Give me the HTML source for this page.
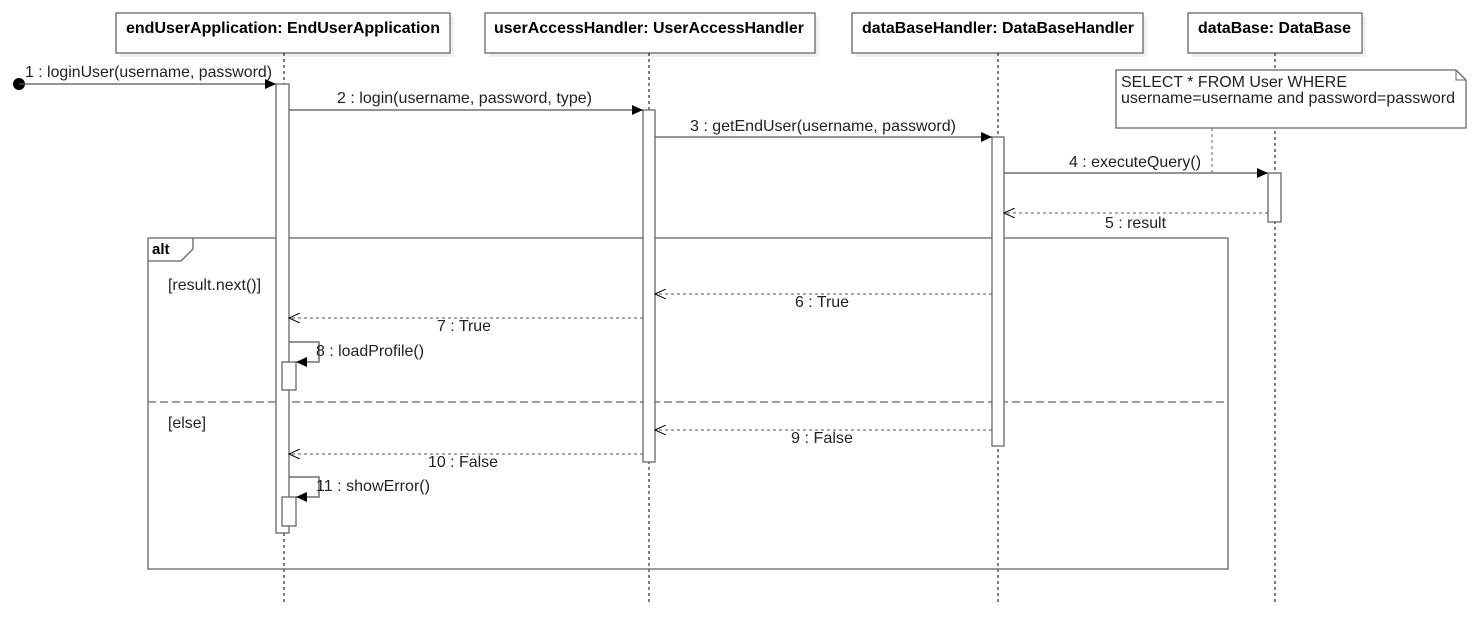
<!DOCTYPE html>
<html><head><meta charset="utf-8"><style>
html,body{margin:0;padding:0;background:#fff;}
svg{display:block;font-family:"Liberation Sans",sans-serif;}
</style></head><body>
<svg width="1473" height="623" viewBox="0 0 1473 623" xmlns="http://www.w3.org/2000/svg">
<defs>
<marker id="fa" markerWidth="12" markerHeight="10" refX="11" refY="5" orient="auto" markerUnits="userSpaceOnUse"><path d="M0,0 L11,5 L0,10 Z" fill="#000"/></marker>
<marker id="oa" markerWidth="12" markerHeight="10" refX="11" refY="5" orient="auto" markerUnits="userSpaceOnUse"><path d="M0,0 L11,5 L0,10" fill="none" stroke="#000" stroke-width="1"/></marker>
</defs>
<g fill="#f0f0f0">
<rect x="120" y="17" width="334" height="40"/>
<rect x="489" y="17" width="330" height="40"/>
<rect x="856" y="17" width="291" height="40"/>
<rect x="1192" y="17" width="174" height="40"/>
</g>
<g fill="#fff" stroke="#666" stroke-width="1.3">
<rect x="116" y="13" width="334" height="40"/>
<rect x="485" y="13" width="330" height="40"/>
<rect x="852" y="13" width="291" height="40"/>
<rect x="1188" y="13" width="174" height="40"/>
</g>
<g font-weight="bold" font-size="15.5" fill="#000">
<text x="126" y="33" textLength="314" lengthAdjust="spacingAndGlyphs">endUserApplication: EndUserApplication</text>
<text x="494" y="33" textLength="310" lengthAdjust="spacingAndGlyphs">userAccessHandler: UserAccessHandler</text>
<text x="862" y="33" textLength="272" lengthAdjust="spacingAndGlyphs">dataBaseHandler: DataBaseHandler</text>
<text x="1198" y="33" textLength="153" lengthAdjust="spacingAndGlyphs">dataBase: DataBase</text>
</g>
<g stroke="#000" stroke-dasharray="3,3" stroke-width="1">
<line x1="284" y1="53" x2="284" y2="603"/>
<line x1="649" y1="53" x2="649" y2="603"/>
<line x1="998" y1="53" x2="998" y2="603"/>
<line x1="1275" y1="53" x2="1275" y2="603"/>
</g>
<path d="M1116,70 L1456,70 L1466,80 L1466,128 L1116,128 Z" fill="#fff" stroke="#666" stroke-width="1.3"/>
<path d="M1456,70 L1456,80 L1466,80" fill="none" stroke="#666"/>
<text x="1121" y="87" font-size="16" fill="#222" textLength="226" lengthAdjust="spacingAndGlyphs">SELECT * FROM User WHERE</text>
<text x="1121" y="103" font-size="16" fill="#222" textLength="334" lengthAdjust="spacingAndGlyphs">username=username and password=password</text>
<path d="M1212,128 L1212,173 L1139,173" fill="none" stroke="#666" stroke-dasharray="3,3"/>
<rect x="148" y="238" width="1080" height="331" fill="none" stroke="#666" stroke-width="1.3"/>
<path d="M148,261 L181,261 L193,249 L193,238" fill="none" stroke="#666" stroke-width="1.3"/>
<text x="152" y="254" font-size="15" font-weight="bold">alt</text>
<line x1="148" y1="402" x2="1228" y2="402" stroke="#666" stroke-width="1.3" stroke-dasharray="8,4"/>
<text x="168" y="290" font-size="16" fill="#222" textLength="93" lengthAdjust="spacingAndGlyphs">[result.next()]</text>
<text x="168" y="428" font-size="16" fill="#222" textLength="38" lengthAdjust="spacingAndGlyphs">[else]</text>
<g fill="#fff" stroke="#666" stroke-width="1.3">
<rect x="276" y="84" width="13" height="449"/>
<rect x="282" y="362" width="14" height="28"/>
<rect x="282" y="497" width="14" height="29"/>
<rect x="643" y="110" width="12" height="352"/>
<rect x="992" y="137" width="12" height="309"/>
<rect x="1268" y="173" width="13" height="49"/>
</g>
<circle cx="19" cy="84" r="6" fill="#000"/>
<g stroke="#555" stroke-width="1.3" fill="none">
<line x1="19" y1="84" x2="276" y2="84" marker-end="url(#fa)"/>
<line x1="289" y1="110" x2="643" y2="110" marker-end="url(#fa)"/>
<line x1="655" y1="137" x2="992" y2="137" marker-end="url(#fa)"/>
<line x1="1004" y1="173" x2="1268" y2="173" marker-end="url(#fa)"/>
<path d="M289,342 L319,342 L319,362 L296,362" marker-end="url(#fa)"/>
<path d="M289,477 L319,477 L319,497 L296,497" marker-end="url(#fa)"/>
</g>
<g stroke="#555" stroke-width="1.1" fill="none" stroke-dasharray="3,3">
<line x1="1268" y1="213" x2="1004" y2="213" marker-end="url(#oa)"/>
<line x1="992" y1="294" x2="655" y2="294" marker-end="url(#oa)"/>
<line x1="643" y1="318" x2="289" y2="318" marker-end="url(#oa)"/>
<line x1="992" y1="430" x2="655" y2="430" marker-end="url(#oa)"/>
<line x1="643" y1="454" x2="289" y2="454" marker-end="url(#oa)"/>
</g>
<g font-size="16" fill="#222">
<text x="25" y="77" textLength="247" lengthAdjust="spacingAndGlyphs">1 : loginUser(username, password)</text>
<text x="337" y="103" textLength="255" lengthAdjust="spacingAndGlyphs">2 : login(username, password, type)</text>
<text x="690" y="131" textLength="266" lengthAdjust="spacingAndGlyphs">3 : getEndUser(username, password)</text>
<text x="1069" y="167" textLength="132" lengthAdjust="spacingAndGlyphs">4 : executeQuery()</text>
<text x="1105" y="228" textLength="61" lengthAdjust="spacingAndGlyphs">5 : result</text>
<text x="795" y="307" textLength="54" lengthAdjust="spacingAndGlyphs">6 : True</text>
<text x="437" y="331" textLength="54" lengthAdjust="spacingAndGlyphs">7 : True</text>
<text x="791" y="443" textLength="62" lengthAdjust="spacingAndGlyphs">9 : False</text>
<text x="428" y="467" textLength="70" lengthAdjust="spacingAndGlyphs">10 : False</text>
<text x="316" y="356" textLength="108" lengthAdjust="spacingAndGlyphs">8 : loadProfile()</text>
<text x="316" y="491" textLength="114" lengthAdjust="spacingAndGlyphs">11 : showError()</text>
</g>
</svg>
</body></html>
